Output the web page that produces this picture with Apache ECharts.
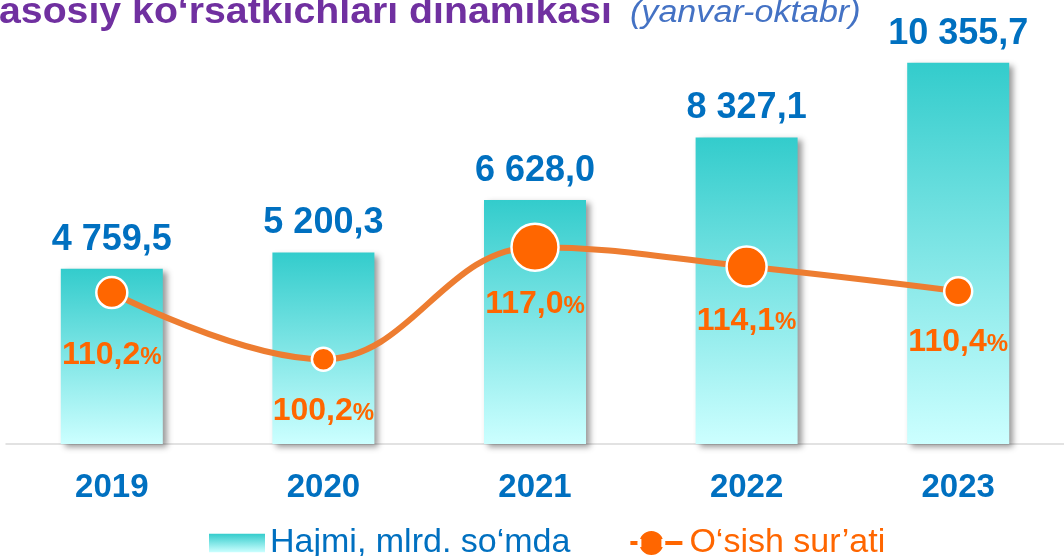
<!DOCTYPE html>
<html>
<head>
<meta charset="utf-8">
<script src="https://cdn.jsdelivr.net/npm/echarts@6/dist/echarts.min.js"></script>
<style>
  html, body { margin: 0; padding: 0; background: #fff; }
  #chart { width: 1064px; height: 556px; }
</style>
</head>
<body>
<div id="chart"></div>
<script>
// data
const years = ['2019', '2020', '2021', '2022', '2023'];
const volume = [4759.5, 5200.3, 6628.0, 8327.1, 10355.7];   // mlrd. so'm
const growth = [110.2, 100.2, 117.0, 114.1, 110.4];         // %

// per-point styling
const markerSizes = [31, 23, 47, 40, 28];
const labelShift = [10, 3, -4, -3, 0];

const volumeName = 'Hajmi, mlrd. so‘mda';
const growthName = 'O‘sish sur’ati';

function fmt(v) {
    const parts = v.toFixed(1).split('.');
    return parts[0].replace(/\B(?=(\d{3})+(?!\d))/g, ' ') + ',' + parts[1];
}

const myChart = echarts.init(document.getElementById('chart'));
const font = '"Liberation Sans", Arial, sans-serif';
const barGradient = () => new echarts.graphic.LinearGradient(0, 0, 0, 1, [
    { offset: 0, color: '#33CCCC' },
    { offset: 1, color: '#CCFFFF' }
]);

const option = {
    animation: false,
    textStyle: { fontFamily: font },
    grid: { left: 6, width: 1062, top: 39, bottom: 112 },
    graphic: [
        {
            type: 'text',
            x: -1,
            y: 13,
            scaleX: 1.09,
            style: {
                text: 'asosiy ko‘rsatkichlari dinamikasi',
                font: 'bold 36px ' + font,
                fill: '#7030A0',
                verticalAlign: 'middle'
            }
        },
        {
            type: 'text',
            x: 630,
            y: 13,
            scaleX: 1.1,
            style: {
                text: '(yanvar-oktabr)',
                font: 'italic 31px ' + font,
                fill: '#4472C4',
                verticalAlign: 'middle'
            }
        }
    ],
    legend: {
        left: 204,
        top: 521,
        itemGap: 58,
        itemWidth: 56,
        itemHeight: 26,
        textStyle: { fontSize: 34, padding: [0, 0, 0, 0] },
        data: [
            {
                name: volumeName,
                icon: 'path://M0,0H54V18H0Z',
                textStyle: { color: '#0070C0' }
            },
            {
                name: growthName,
                icon: 'path://M2,10H13V16H2Z M35,10H56V16H35Z M24,0A13,13,0,1,1,24,26A13,13,0,1,1,24,0Z',
                textStyle: { color: '#FF6600' }
            }
        ]
    },
    xAxis: {
        type: 'category',
        data: years,
        axisTick: { show: false },
        axisLine: { lineStyle: { color: '#D9D9D9', width: 1.5 } },
        axisLabel: { margin: 27, fontSize: 33, fontWeight: 'bold', color: '#0070C0' }
    },
    yAxis: [
        { type: 'value', min: 0, max: 11000, show: false },
        { type: 'value', min: 87.5, max: 148.2, show: false }
    ],
    series: [
        {
            name: volumeName,
            type: 'bar',
            barWidth: 102,
            data: volume,
            itemStyle: {
                color: barGradient(),
                shadowColor: 'rgba(0,0,0,0.4)',
                shadowBlur: 6,
                shadowOffsetX: 4,
                shadowOffsetY: 3
            },
            label: {
                show: true,
                position: 'top',
                distance: 11,
                fontSize: 36,
                fontWeight: 'bold',
                color: '#0070C0',
                formatter: p => fmt(p.value)
            }
        },
        {
            name: growthName,
            type: 'line',
            yAxisIndex: 1,
            smooth: 0.4,
            data: growth.map((v, i) => ({ value: v, label: { offset: [0, labelShift[i]] } })),
            symbol: 'circle',
            symbolSize: (v, p) => markerSizes[p.dataIndex],
            lineStyle: { color: '#ED7D31', width: 6 },
            itemStyle: { color: '#FF6600', borderColor: '#fff', borderWidth: 2.5 },
            z: 5,
            label: {
                show: true,
                position: 'bottom',
                distance: 20,
                formatter: p => '{n|' + p.value.toFixed(1).replace('.', ',') + '}{p|%}',
                rich: {
                    n: { fontSize: 32, fontWeight: 'bold', color: '#FF6600' },
                    p: { fontSize: 24, fontWeight: 'bold', color: '#FF6600', padding: [4, 0, 0, 0] }
                }
            }
        }
    ]
};

myChart.setOption(option);
</script>
</body>
</html>
